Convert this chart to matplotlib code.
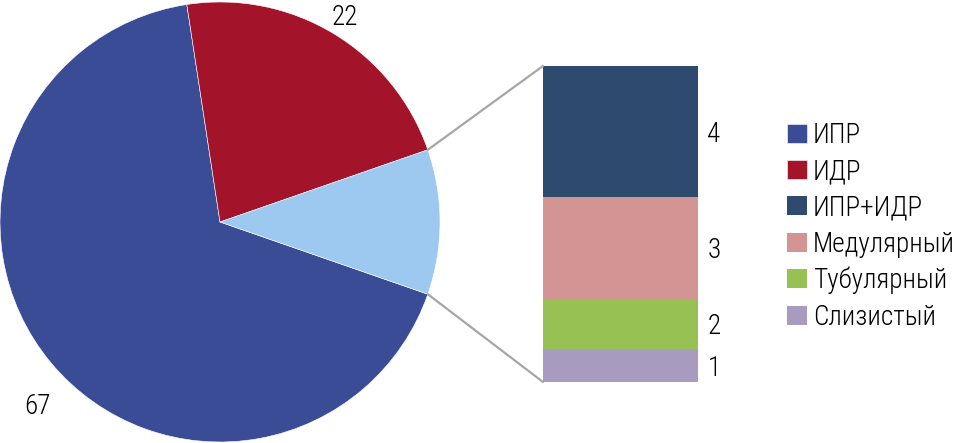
import matplotlib
matplotlib.use("Agg")
import matplotlib.pyplot as plt
from matplotlib import font_manager
from matplotlib.patches import ConnectionPatch
import numpy as np

pie_labels = ["ИПР", "ИДР"]
pie_values = [67, 22]
bar_labels = ["Слизистый", "Тубулярный", "Медулярный", "ИПР+ИДР"]
bar_values = [1.1, 1.7, 3.4, 4.4]

pie_colors = ["#3A4C96", "#A3142B", "#9DC8EF"]
bar_colors = ["#A89BC0", "#98C153", "#D39494", "#2E4A6E"]

names = {f.name for f in font_manager.fontManager.ttflist}
family = "DejaVu Sans"
for cand in ["Roboto Condensed", "Liberation Sans Narrow", "Open Sans Condensed"]:
    if cand in names:
        family = cand
        break
plt.rcParams["font.family"] = [family, "DejaVu Sans"]
plt.rcParams["font.weight"] = "light"
FS = 19.5

W, H = 955, 443
fig = plt.figure(figsize=(W / 100, H / 100), dpi=100)

# pie axes in pixel-like data coordinates
ax = fig.add_axes([0, 0, 1, 1])
other = sum(bar_values)
values = pie_values + [other]
frac = other / sum(values)
start = -frac * 180
cx, cy, r = 220, 221, 220
wedges, _ = ax.pie(values, colors=pie_colors, startangle=start, counterclock=False,
                   center=(cx, cy), radius=r, frame=True,
                   wedgeprops=dict(edgecolor="white", linewidth=0.4))
ax.set_xlim(0, W)
ax.set_ylim(0, H)
ax.set_aspect("equal")
ax.axis("off")

# value labels outside the pie
for w, v, dist, dang in [(wedges[0], pie_values[0], 1.17, 5), (wedges[1], pie_values[1], 1.1, 0)]:
    ang = np.deg2rad((w.theta1 + w.theta2) / 2 + dang)
    ax.text(cx + dist * r * np.cos(ang), cy + dist * r * np.sin(ang) - 3, str(v),
            ha="center", va="center", fontsize=FS, color="black")

# bar of the split slice
bx = fig.add_axes([543 / W, 61 / H, 155 / W, 316 / H])
bottom = 0
bars = []
for lab, v, c in zip(bar_labels, bar_values, bar_colors):
    b = bx.bar(0, v, bottom=bottom, width=1, color=c, label=lab)
    bars.append(b[0])
    bx.text(0.56, bottom + v / 2 - 0.1, f"{v:.0f}", ha="left", va="center", fontsize=FS)
    bottom += v
bx.set_xlim(-0.5, 0.5)
bx.set_ylim(0, bottom)
bx.axis("off")

# connector lines
for ang_deg, yb in [(wedges[2].theta2, bottom), (wedges[2].theta1, 0)]:
    a = np.deg2rad(ang_deg)
    p = (cx + r * np.cos(a), cy + r * np.sin(a))
    con = ConnectionPatch(xyA=p, coordsA=ax.transData, xyB=(-0.5, yb), coordsB=bx.transData,
                          color="#A6A6A6", linewidth=1.6)
    fig.add_artist(con)

handles = [wedges[0], wedges[1]] + bars[::-1]
labels = pie_labels + bar_labels[::-1]
fig.legend(handles, labels, loc="upper left", bbox_to_anchor=(787 / W, 1 - 122 / H),
           frameon=False, fontsize=FS, handlelength=0.75, handleheight=0.7,
           handletextpad=0.2, labelspacing=0.34, borderaxespad=0, borderpad=0)

fig.savefig("out.png", dpi=100)
